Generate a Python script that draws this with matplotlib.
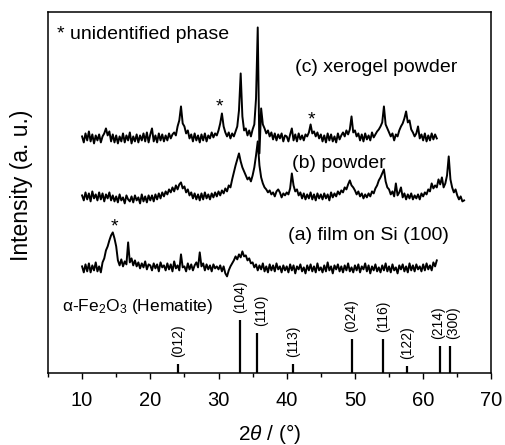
import numpy as np
import matplotlib
matplotlib.use('Agg')
import matplotlib.pyplot as plt

plt.rcParams['font.family'] = ['Liberation Sans', 'DejaVu Sans']
plt.rcParams['mathtext.fontset'] = 'custom'
plt.rcParams['mathtext.rm'] = 'Liberation Sans'
plt.rcParams['mathtext.it'] = 'Liberation Sans:italic'

# rejilla 2theta de los barridos (grados)
theta_start = 10.0
theta_step = 0.25

# (c) polvo xerogel, 10-62 grados (una fila = 5 grados)
xerogel = [
    2, -4, 5, -2, 7, -3, 4, -5, 3, -2, 4, -4, 2, 5, 10, 3, 7, -3, 4, -4,
    3, -5, 2, -3, 5, -4, 3, -2, 6, -5, 2, -3, 4, -4, 3, -2, 5, -3, 6, -4,
    4, 10, -3, 3, -4, 5, -2, 4, -3, 3, -2, 5, 0, 4, 6, 3, 12, 18, 32, 15,
    12, 5, 8, 0, 4, -3, 5, -2, 3, -4, 4, -2, 5, -3, 3, 0, 6, 1, 5, 3,
    8, 15, 25, 12, 6, 2, 6, 0, 5, 2, 7, 12, 28, 65, 22, 8, 10, 3, 8, 2,
    9, 14, 40, 111, -15, 30, 14, 10, 5, 8, 2, 6, -1, 5, -2, 4, 0, 5, -3, 3,
    2, -3, 4, 10, -2, 4, -3, 5, -1, 3, -2, 4, 2, 6, 14, 5, 7, 2, 6, 0,
    4, -3, 3, -4, 5, -2, 4, -3, 2, -4, 5, -1, 3, 6, 2, 8, 4, 9, 22, 6,
    8, 2, 5, -2, 4, -3, 5, -1, 3, -2, 6, 1, 4, 7, 9, 12, 16, 32, 14, 10,
    6, 2, 5, -2, 4, 2, 8, 12, 15, 20, 27, 16, 18, 9, 6, 2, 5, 12, 0, 4,
    -2, 5, -3, 3, -2, 5, -1, 4, 0,
]

# (b) polvo, 10-66 grados
powder = [
    2, -3, 5, -2, 4, -4, 6, -1, 3, -3, 5, -2, 4, -4, 3, -1, 5, -3, 2, -4,
    1, -5, 3, -3, 0, -6, 2, -2, -4, 1, -5, 2, -3, 0, -6, 3, -4, 1, -5, 2,
    -3, 2, -4, 3, -2, 4, -1, 5, 1, 6, 3, 8, 5, 10, 6, 12, 8, 13, 15, 9,
    11, 5, 8, 2, 5, -1, 4, -2, 3, -3, 4, -2, 5, -1, 3, -2, 4, 0, 5, 1,
    6, 2, 7, 4, 9, 6, 12, 10, 18, 25, 32, 38, 44, 36, 30, 26, 22, 18, 20, 16,
    22, 30, 42, 56, 32, 20, 14, 10, 8, 5, 7, 3, 5, 1, 6, 8, 5, 0, 4, 2,
    5, 3, 9, 24, 12, 6, 8, 2, 5, -1, 4, -2, 3, -1, 5, -2, 3, -3, 4, -1,
    3, -2, 4, -1, 3, -3, 5, 0, 4, 1, 6, 3, 7, 5, 10, 8, 13, 17, 12, 10,
    7, 3, 6, 1, 4, -1, 3, 0, 4, 1, 6, 4, 9, 12, 17, 20, 24, 28, 16, 10,
    8, 3, 6, 1, 14, 2, 5, 10, 0, 4, -2, 3, -1, 4, -2, 2, -1, 3, -2, 4,
    1, 5, 3, 8, 6, 14, 9, 12, 10, 18, 13, 20, 10, 14, 22, 41, 18, 10, 5, 8,
    2, -2, 1, -4, -3,
]

# (a) pelicula sobre Si (100), 10-62 grados
film = [
    2, -4, 4, -3, 5, -4, 3, -2, 6, -3, 2, -4, 6, 10, 18, 22, 28, 33, 36, 30,
    22, 8, 3, 9, 2, 7, 4, 26, 6, 10, 3, 8, 2, 6, 0, 5, 1, 7, -1, 4,
    3, -2, 5, 0, 4, -3, 6, 1, 3, -2, 5, -1, 4, -3, 7, 0, 3, -2, 14, 1,
    2, -3, 5, -1, 4, -2, 3, 6, 1, 16, 2, 5, -2, 4, -1, 3, -3, 4, 0, 2,
    -1, 3, -3, 2, -5, -8, -2, 2, 5, 8, 12, 9, 14, 11, 17, 12, 13, 8, 10, 5,
    6, 1, 4, -2, 3, -1, 5, -3, 2, -4, 4, -2, 3, -3, 5, -1, 2, -4, 3, -2,
    2, -4, 4, -2, 3, -5, 2, -1, 4, -3, 1, -5, 3, -2, 4, -3, 2, -4, 5, -2,
    1, -4, 3, -3, 6, -2, 2, -5, 3, -1, 4, -3, 2, -4, 3, -2, 5, -3, 1, -4,
    3, -2, 4, -4, 2, -1, 5, -3, 3, -5, 2, -2, 4, -3, 1, -4, 3, -2, 5, -3,
    2, -4, 4, -2, 1, -5, 3, -1, 4, -3, 2, -4, 5, -2, 3, -3, 4, -1, 2, -3,
    4, -2, 5, -1, 3, -2, 6, 2, 8,
]

# desplazamiento vertical de cada barrido
offset_c = 235
offset_b = 176
offset_a = 105

# lineas de referencia alfa-Fe2O3 (hematita)
hkl = ['(012)', '(104)', '(110)', '(113)', '(024)', '(116)', '(122)', '(214)', '(300)']
hkl_pos = [24.1, 33.2, 35.6, 40.9, 49.5, 54.1, 57.6, 62.4, 64.0]
hkl_int = [9, 53, 40, 9, 34, 34, 7, 27, 27]

# corrimiento horizontal de algunas etiquetas para que no se pisen
label_shift = {'(110)': 0.6, '(214)': -0.25, '(300)': 0.45}

fig = plt.figure(figsize=(5.05, 4.45), dpi=100)
ax = fig.add_axes([0.095, 0.161, 0.878, 0.811])


def theta(values):
    return theta_start + theta_step * np.arange(len(values))


for vals, off in [(xerogel, offset_c), (powder, offset_b), (film, offset_a)]:
    ax.plot(theta(vals), np.array(vals) + off, color='black', lw=1.4)

# barras de hematita
ax.vlines(hkl_pos, 0, hkl_int, color='black', lw=1.6)
for lab, p, h in zip(hkl, hkl_pos, hkl_int):
    ax.text(p + label_shift.get(lab, 0), h + 7, lab, rotation=90,
            ha='center', va='bottom', fontsize=10)

# textos
ax.text(41.2, 306, '(c) xerogel powder', fontsize=14, va='center')
ax.text(40.8, 210, '(b) powder', fontsize=14, va='center')
ax.text(40.2, 138, '(a) film on Si (100)', fontsize=14, va='center')
ax.text(6.3, 339, '* unidentified phase', fontsize=14, va='center')
ax.text(7.05, 67, r'α-Fe$_2$O$_3$ (Hematite)', fontsize=12.5, va='center')
for sx, sy in [(30.2, 266), (43.6, 253), (14.7, 146)]:
    ax.text(sx, sy, '*', fontsize=14, ha='center', va='center')

ax.set_xlim(5, 70)
ax.set_ylim(0, 361)
ax.set_xticks(range(10, 71, 10))
ax.set_xticks(range(5, 71, 5), minor=True)
ax.set_yticks([])
ax.tick_params(axis='x', which='major', direction='out', length=4.5, width=1,
               labelsize=14.5, pad=8)
ax.tick_params(axis='x', which='minor', direction='out', length=3, width=1)
for s in ax.spines.values():
    s.set_linewidth(1.1)

ax.set_xlabel(r'$\mathit{2\theta}$ / (°)', fontsize=15, labelpad=9)
ax.set_ylabel('Intensity (a. u.)', fontsize=16.5)
ax.yaxis.set_label_coords(-0.033, 0.52)

fig.savefig('out.png', dpi=100)
